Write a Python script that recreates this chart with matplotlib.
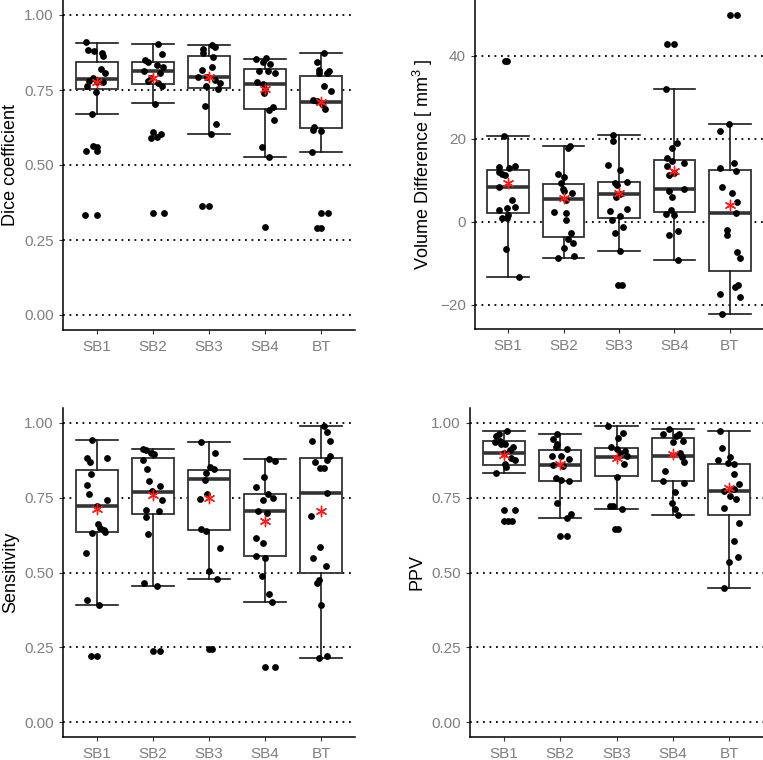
import matplotlib
matplotlib.use("Agg")
import matplotlib.pyplot as plt

plt.rcParams['font.family'] = ['Liberation Sans', 'DejaVu Sans']
plt.rcParams['mathtext.fontset'] = 'custom'
plt.rcParams['mathtext.rm'] = 'Liberation Sans'
plt.rcParams['mathtext.it'] = 'Liberation Sans'

categories = ["SB1", "SB2", "SB3", "SB4", "BT"]

# ---------------- Dice coefficient ----------------
dice_points = [
    [0.909, 0.884, 0.880, 0.873, 0.865, 0.821, 0.806, 0.791, 0.780, 0.777, 0.777, 0.762, 0.743, 0.671, 0.563, 0.560, 0.546, 0.546, 0.333, 0.333],
    [0.904, 0.869, 0.851, 0.843, 0.835, 0.826, 0.815, 0.805, 0.790, 0.780, 0.775, 0.765, 0.705, 0.610, 0.603, 0.595, 0.590, 0.340, 0.340],
    [0.901, 0.895, 0.888, 0.873, 0.860, 0.826, 0.818, 0.795, 0.793, 0.785, 0.773, 0.762, 0.754, 0.696, 0.637, 0.604, 0.363, 0.363],
    [0.858, 0.854, 0.845, 0.838, 0.815, 0.815, 0.806, 0.776, 0.770, 0.754, 0.740, 0.693, 0.684, 0.651, 0.560, 0.526, 0.293],
    [0.875, 0.845, 0.818, 0.812, 0.805, 0.808, 0.762, 0.746, 0.717, 0.712, 0.705, 0.687, 0.628, 0.617, 0.615, 0.542, 0.341, 0.341, 0.289, 0.289],
]
dice_jitter = [
    [-0.19, -0.15, -0.05, 0.10, 0.12, 0.08, 0.15, -0.06, -0.13, 0.0, 0.11, -0.17, -0.02, -0.08, -0.06, 0.01, -0.19, 0.0, -0.20, 0.0],
    [0.10, 0.17, -0.14, -0.08, 0.07, 0.18, -0.16, 0.12, -0.04, -0.08, 0.09, 0.16, 0.04, 0.0, 0.15, 0.08, -0.03, 0.0, 0.20],
    [0.05, 0.10, -0.11, -0.10, 0.08, 0.05, -0.12, -0.20, -0.04, 0.10, 0.19, -0.05, 0.16, -0.08, 0.12, 0.04, -0.13, 0.0],
    [0.02, -0.16, -0.04, 0.09, -0.11, 0.05, 0.17, -0.15, -0.04, 0.0, -0.02, 0.14, 0.06, 0.15, -0.06, 0.07, 0.0],
    [0.05, -0.07, -0.05, 0.14, -0.04, 0.11, 0.04, 0.17, -0.15, -0.07, 0.02, 0.07, -0.13, -0.14, 0.0, -0.17, 0.0, 0.12, -0.07, 0.0],
]
dice_q1 = [0.752, 0.770, 0.758, 0.687, 0.623]
dice_med = [0.788, 0.814, 0.795, 0.771, 0.709]
dice_q3 = [0.842, 0.845, 0.865, 0.821, 0.798]
dice_lo = [0.671, 0.706, 0.604, 0.526, 0.542]
dice_hi = [0.908, 0.904, 0.901, 0.855, 0.875]
dice_mean = [0.777, 0.791, 0.795, 0.754, 0.710]

# ---------------- Volume difference ----------------
vol_points = [
    [38.8, 38.8, 20.6, 13.4, 13.3, 13.0, 11.9, 11.5, 11.3, 8.4, 5.2, 3.5, 3.2, 2.7, 1.6, 1.0, 0.8, -6.6, -13.4],
    [18.3, 17.7, 11.5, 10.8, 9.4, 7.8, 7.4, 7.0, 5.2, 2.4, 2.0, 0.4, -2.8, -4.3, -5.2, -6.4, -8.3, -8.8],
    [20.9, 19.4, 13.7, 12.4, 9.6, 9.4, 8.8, 6.8, 6.0, 3.1, 2.6, 1.4, 0.4, -1.4, -2.7, -7.0, -15.3, -15.3],
    [43.0, 43.0, 32.1, 19.0, 17.7, 15.4, 14.6, 14.2, 13.5, 11.8, 11.2, 7.8, 7.5, 6.0, 2.8, 1.8, 1.6, -2.2, -3.1, -9.2],
    [49.8, 49.8, 23.5, 21.9, 14.2, 12.9, 12.2, 8.3, 7.0, 4.8, 2.0, -2.0, -3.2, -7.2, -8.8, -15.3, -15.7, -17.4, -18.1, -22.3],
]
vol_jitter = [
    [-0.02, -0.06, -0.08, 0.13, -0.16, 0.01, -0.16, -0.11, -0.05, -0.17, 0.07, 0.12, -0.02, -0.16, 0.0, -0.03, -0.11, -0.04, 0.19],
    [0.11, 0.08, -0.11, 0.01, -0.05, -0.02, 0.01, 0.16, 0.04, -0.17, 0.05, 0.04, 0.14, 0.08, 0.17, 0.01, 0.19, -0.11],
    [-0.11, -0.11, -0.19, 0.01, 0.14, -0.07, -0.04, 0.01, -0.05, 0.14, -0.16, 0.01, -0.13, 0.08, -0.07, 0.01, -0.02, 0.05],
    [-0.14, 0.0, -0.15, 0.05, -0.04, -0.14, -0.05, 0.17, -0.13, -0.01, -0.10, 0.17, -0.10, -0.04, -0.06, -0.16, 0.0, 0.07, -0.09, 0.07],
    [0.01, 0.13, -0.02, -0.18, 0.08, -0.17, 0.11, -0.14, 0.04, 0.13, 0.12, -0.05, -0.05, 0.13, 0.19, 0.14, 0.10, -0.18, 0.19, -0.14],
]
vol_q1 = [2.0, -3.6, 0.8, 2.4, -11.8]
vol_med = [8.4, 5.4, 6.8, 7.9, 2.2]
vol_q3 = [12.4, 9.2, 9.6, 15.0, 12.4]
vol_lo = [-13.4, -8.8, -7.0, -9.2, -22.3]
vol_hi = [20.6, 18.2, 20.9, 32.1, 23.5]
vol_mean = [9.4, 5.6, 7.0, 12.2, 4.0]

# ---------------- Sensitivity ----------------
sens_points = [
    [0.942, 0.884, 0.882, 0.868, 0.831, 0.793, 0.762, 0.743, 0.721, 0.662, 0.648, 0.643, 0.634, 0.632, 0.564, 0.409, 0.393, 0.222, 0.222],
    [0.912, 0.910, 0.898, 0.896, 0.875, 0.845, 0.806, 0.790, 0.771, 0.742, 0.710, 0.704, 0.686, 0.628, 0.464, 0.454, 0.236, 0.236],
    [0.937, 0.900, 0.853, 0.845, 0.834, 0.810, 0.762, 0.747, 0.647, 0.640, 0.582, 0.504, 0.478, 0.244, 0.244],
    [0.881, 0.873, 0.818, 0.786, 0.764, 0.748, 0.742, 0.706, 0.699, 0.617, 0.600, 0.556, 0.548, 0.488, 0.428, 0.400, 0.184, 0.184],
    [0.990, 0.970, 0.939, 0.939, 0.890, 0.875, 0.870, 0.851, 0.849, 0.766, 0.690, 0.584, 0.548, 0.522, 0.476, 0.464, 0.393, 0.221, 0.215],
]
sens_jitter = [
    [-0.09, -0.17, 0.18, -0.12, -0.11, -0.18, -0.13, 0.19, 0.0, 0.02, 0.06, 0.13, 0.15, -0.09, -0.19, -0.17, 0.04, -0.11, 0.0],
    [-0.17, -0.13, -0.04, 0.02, -0.18, -0.10, -0.07, 0.12, -0.02, 0.17, -0.12, 0.11, -0.12, -0.08, -0.15, 0.08, 0.0, 0.12],
    [-0.15, 0.11, 0.02, 0.09, -0.06, -0.08, -0.04, -0.16, -0.15, -0.06, 0.19, 0.0, 0.14, 0.0, 0.05],
    [0.07, 0.18, -0.02, -0.17, 0.05, 0.14, -0.04, -0.13, 0.04, -0.16, -0.03, -0.17, -0.01, -0.06, 0.07, 0.12, 0.0, 0.18],
    [0.05, 0.10, -0.17, 0.16, 0.16, 0.11, -0.12, 0.04, -0.02, 0.10, -0.19, -0.02, -0.15, 0.08, -0.05, -0.08, 0.0, 0.11, -0.05],
]
sens_q1 = [0.634, 0.697, 0.642, 0.554, 0.499]
sens_med = [0.723, 0.770, 0.812, 0.706, 0.766]
sens_q3 = [0.844, 0.884, 0.843, 0.761, 0.883]
sens_lo = [0.393, 0.454, 0.478, 0.400, 0.215]
sens_hi = [0.942, 0.912, 0.937, 0.881, 0.989]
sens_mean = [0.712, 0.759, 0.748, 0.671, 0.706]

# ---------------- PPV ----------------
ppv_points = [
    [0.973, 0.962, 0.957, 0.940, 0.936, 0.928, 0.930, 0.918, 0.908, 0.898, 0.884, 0.875, 0.862, 0.853, 0.832, 0.709, 0.709, 0.673, 0.673, 0.673],
    [0.964, 0.945, 0.929, 0.919, 0.913, 0.890, 0.890, 0.881, 0.859, 0.857, 0.815, 0.809, 0.806, 0.734, 0.695, 0.681, 0.621, 0.621],
    [0.990, 0.966, 0.951, 0.918, 0.912, 0.907, 0.900, 0.889, 0.864, 0.818, 0.723, 0.723, 0.712, 0.645, 0.645],
    [0.979, 0.964, 0.964, 0.957, 0.938, 0.937, 0.901, 0.887, 0.870, 0.840, 0.806, 0.800, 0.768, 0.732, 0.711, 0.693],
    [0.973, 0.915, 0.887, 0.875, 0.865, 0.862, 0.829, 0.797, 0.779, 0.771, 0.756, 0.745, 0.717, 0.665, 0.606, 0.551, 0.534, 0.447],
]
ppv_jitter = [
    [0.05, -0.08, -0.13, -0.07, -0.16, 0.02, -0.05, 0.17, 0.11, 0.01, 0.12, 0.19, 0.02, 0.04, -0.13, 0.0, 0.20, 0.0, 0.07, 0.14],
    [-0.06, -0.13, -0.06, -0.08, 0.12, -0.15, 0.01, 0.16, -0.12, 0.05, -0.07, 0.02, 0.15, -0.06, 0.19, 0.12, -0.01, 0.12],
    [-0.15, 0.11, 0.03, -0.09, 0.0, 0.15, 0.07, 0.18, 0.13, 0.01, -0.12, -0.06, 0.10, 0.02, -0.02],
    [-0.07, -0.17, 0.11, 0.05, 0.18, 0.01, 0.13, 0.16, 0.19, -0.14, -0.18, 0.19, 0.03, -0.02, 0.04, 0.10],
    [-0.16, -0.13, 0.02, -0.19, -0.02, 0.09, 0.08, 0.17, 0.08, -0.10, 0.01, 0.12, -0.10, 0.17, 0.08, 0.15, -0.01, -0.09],
]
ppv_q1 = [0.860, 0.806, 0.821, 0.806, 0.691]
ppv_med = [0.901, 0.858, 0.887, 0.890, 0.773]
ppv_q3 = [0.938, 0.910, 0.915, 0.951, 0.862]
ppv_lo = [0.832, 0.681, 0.712, 0.693, 0.447]
ppv_hi = [0.973, 0.964, 0.990, 0.981, 0.973]
ppv_mean = [0.893, 0.864, 0.882, 0.895, 0.782]

W, H = 763, 760
fig = plt.figure(figsize=(W / 100, H / 100), dpi=100)


def px_axes(left, top, right, bottom):
    return fig.add_axes([left / W, 1 - bottom / H, (right - left) / W, (bottom - top) / H])


GREY = '#7f7f7f'
BOXC = '#333333'


def panel(ax, pts, jit, q1, med, q3, lo, hi, mean, ylim, yticks, yticklabels, ylabel):
    pos = list(range(1, len(categories) + 1))
    for t in yticks:
        ax.axhline(t, color='black', linestyle=(0, (1, 2.6)), linewidth=1.3, zorder=0)
    stats = []
    for i in range(len(categories)):
        stats.append(dict(med=med[i], q1=q1[i], q3=q3[i], whislo=lo[i], whishi=hi[i],
                          fliers=[], label=categories[i]))
    ax.bxp(stats, positions=pos, widths=0.75, showfliers=False, patch_artist=True,
           boxprops=dict(facecolor='white', edgecolor=BOXC, linewidth=1.3),
           medianprops=dict(color=BOXC, linewidth=2.6),
           whiskerprops=dict(color='#1a1a1a', linewidth=1.2),
           capprops=dict(color='#1a1a1a', linewidth=1.2),
           capwidths=0.75, zorder=2)
    for i, p in enumerate(pos):
        xs = [p + j for j in jit[i]]
        ax.scatter(xs, pts[i], s=24, color='black', zorder=3, linewidths=0)
    ax.scatter(pos, mean, marker=(6, 2, 0), s=55, color='#ff1a1a', linewidths=1.0, zorder=4)
    ax.set_xlim(0.4, 5.6)
    ax.set_ylim(*ylim)
    ax.set_xticks(pos)
    ax.set_xticklabels(categories)
    ax.set_yticks(yticks)
    ax.set_yticklabels(yticklabels)
    ax.tick_params(axis='both', colors='#333333', labelcolor=GREY, labelsize=11, length=3, width=0.8)
    ax.tick_params(axis='x', pad=4)
    for s in ['top', 'right']:
        ax.spines[s].set_visible(False)
    for s in ['left', 'bottom']:
        ax.spines[s].set_linewidth(1.1)
        ax.spines[s].set_color('black')
    ax.set_ylabel(ylabel, fontsize=13, color='black', labelpad=4)


prop_ticks = [0.0, 0.25, 0.5, 0.75, 1.0]
prop_labels = ["0.00", "0.25", "0.50", "0.75", "1.00"]

ax1 = px_axes(63, 0, 355, 330)
panel(ax1, dice_points, dice_jitter, dice_q1, dice_med, dice_q3, dice_lo, dice_hi, dice_mean,
      (-0.05, 1.05), prop_ticks, prop_labels, "Dice coefficient")

ax2 = px_axes(475, 0, 763, 329)
panel(ax2, vol_points, vol_jitter, vol_q1, vol_med, vol_q3, vol_lo, vol_hi, vol_mean,
      (-25.9, 53.5), [-20, 0, 20, 40], ["\u221220", "0", "20", "40"],
      "Volume Difference [ mm$^{3}$ ]")

ax3 = px_axes(63, 408, 355, 737)
panel(ax3, sens_points, sens_jitter, sens_q1, sens_med, sens_q3, sens_lo, sens_hi, sens_mean,
      (-0.05, 1.05), prop_ticks, prop_labels, "Sensitivity")

ax4 = px_axes(470, 408, 763, 737)
panel(ax4, ppv_points, ppv_jitter, ppv_q1, ppv_med, ppv_q3, ppv_lo, ppv_hi, ppv_mean,
      (-0.05, 1.05), prop_ticks, prop_labels, "PPV")

fig.savefig("out.png", dpi=100)
